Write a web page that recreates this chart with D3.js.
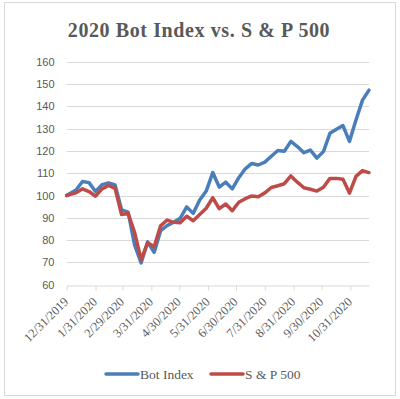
<!DOCTYPE html>
<html>
<head>
<meta charset="utf-8">
<script src="https://cdn.jsdelivr.net/npm/d3@7"></script>
<style>
  html, body { margin: 0; padding: 0; background: #fff; }
  svg { display: block; }
</style>
</head>
<body>
<script>
// weekly closes, both rebased to 100 on 12/31/2019
const dates = [
  "2019-12-31", "2020-01-03", "2020-01-10", "2020-01-17", "2020-01-24", "2020-01-31",
  "2020-02-07", "2020-02-14", "2020-02-21", "2020-02-28", "2020-03-06", "2020-03-13",
  "2020-03-20", "2020-03-27", "2020-04-03", "2020-04-10", "2020-04-17", "2020-04-24",
  "2020-05-01", "2020-05-08", "2020-05-15", "2020-05-22", "2020-05-29", "2020-06-05",
  "2020-06-12", "2020-06-19", "2020-06-26", "2020-07-03", "2020-07-10", "2020-07-17",
  "2020-07-24", "2020-07-31", "2020-08-07", "2020-08-14", "2020-08-21", "2020-08-28",
  "2020-09-04", "2020-09-11", "2020-09-18", "2020-09-25", "2020-10-02", "2020-10-09",
  "2020-10-16", "2020-10-23", "2020-10-30", "2020-11-06", "2020-11-13", "2020-11-20"
];
const botIndex = [
  100, 100.8, 102.5, 106.3, 105.8, 101.8,
  104.9, 105.7, 104.8, 93.6, 92.6, 77.8,
  69.8, 79.2, 74.5, 84.3, 86.5, 88,
  89.8, 94.9, 92, 98, 102, 110.3,
  103.8, 106, 103, 108, 112, 114.4,
  113.7, 115, 117.6, 120.2, 119.9, 124.3,
  122, 119.2, 120.4, 116.8, 119.7, 127.9,
  129.7, 131.4, 124.3, 133.9, 142.8, 147.3
];
const sp500 = [
  100, 100.4, 101.2, 103, 101.8, 99.7,
  103, 104.5, 103.2, 91.5, 92, 83.5,
  71.3, 78.8, 77, 86.4, 89, 88,
  87.8, 90.7, 88.7, 91.5, 94.3, 99,
  94.1, 96.2, 93.2, 97, 98.6, 99.8,
  99.5, 101.2, 103.6, 104.4, 105.3, 108.8,
  106, 103.5, 102.8, 102, 103.7, 107.7,
  107.7, 107.3, 101.1, 108.6, 111.2, 110.3
];
const yTicks = [60, 70, 80, 90, 100, 110, 120, 130, 140, 150, 160];
const xTickLabels = [
  "12/31/2019", "1/31/2020", "2/29/2020", "3/31/2020", "4/30/2020", "5/31/2020",
  "6/30/2020", "7/31/2020", "8/31/2020", "9/30/2020", "10/31/2020"
];
const seriesNames = ["Bot Index", "S & P 500"];
const seriesColors = ["#4a7ebb", "#be4b48"];

(function(){
  const width = 400, height = 399;
  const parseIso = d3.utcParse("%Y-%m-%d");
  const parseUs = d3.utcParse("%m/%d/%Y");

  const rows = dates.map((d, i) => ({ date: parseIso(d), bot: botIndex[i], sp: sp500[i] }));

  const svg = d3.select("body").append("svg")
    .attr("width", width)
    .attr("height", height);

  // chart border
  svg.append("rect")
    .attr("x", 4.5).attr("y", 2.5)
    .attr("width", 391).attr("height", 393)
    .attr("fill", "none")
    .attr("stroke", "#d9d9d9");

  svg.append("text")
    .attr("x", 199).attr("y", 37)
    .attr("text-anchor", "middle")
    .attr("font-family", "'Liberation Serif', serif")
    .attr("font-weight", "bold")
    .attr("font-size", 20)
    .attr("letter-spacing", 0.6)
    .attr("fill", "#595959")
    .text("2020 Bot Index vs. S & P 500");

  const xScale = d3.scaleUtc()
    .domain(d3.extent(rows, d => d.date))
    .range([66.7, 369]);
  const yScale = d3.scaleLinear()
    .domain([60, 160])
    .range([284.7, 61.8]);

  // gridlines
  svg.append("g")
    .selectAll("line")
    .data(yTicks.filter(v => v > 60))
    .join("line")
    .attr("x1", xScale.range()[0]).attr("x2", xScale.range()[1])
    .attr("y1", d => Math.round(yScale(d)) + 0.5)
    .attr("y2", d => Math.round(yScale(d)) + 0.5)
    .attr("stroke", "#d9d9d9");

  // y axis labels (no line)
  const yAxis = d3.axisLeft(yScale).tickValues(yTicks).tickSize(0).tickPadding(0);
  const gY = svg.append("g")
    .attr("transform", "translate(54.5,0)")
    .call(yAxis);
  gY.select(".domain").remove();
  gY.selectAll("text")
    .attr("font-family", "'Liberation Sans', sans-serif")
    .attr("font-size", 11)
    .attr("fill", "#595959");

  // x axis
  const xTickDates = xTickLabels.map(s => parseUs(s));
  const xAxis = d3.axisBottom(xScale)
    .tickValues(xTickDates)
    .tickSizeInner(5)
    .tickSizeOuter(0)
    .tickFormat((d, i) => xTickLabels[i]);
  const gX = svg.append("g")
    .attr("transform", "translate(0," + (Math.round(yScale(60)) + 0.5) + ")")
    .call(xAxis);
  gX.selectAll("path, line").attr("stroke", "#d9d9d9");
  gX.selectAll("text")
    .attr("font-family", "'Liberation Serif', serif")
    .attr("font-size", 12.5)
    .attr("fill", "#595959")
    .attr("text-anchor", "end")
    .attr("dy", null)
    .attr("y", null)
    .attr("transform", "translate(2,17) rotate(-45)");

  // series lines
  const keys = ["bot", "sp"];
  const line = key => d3.line()
    .x(d => xScale(d.date))
    .y(d => yScale(d[key]));

  svg.append("g")
    .selectAll("path")
    .data(keys)
    .join("path")
    .attr("d", k => line(k)(rows))
    .attr("fill", "none")
    .attr("stroke", (k, i) => seriesColors[i])
    .attr("stroke-width", 3.5)
    .attr("stroke-linejoin", "round")
    .attr("stroke-linecap", "round");

  // legend
  const legendX = [106, 211];
  const legend = svg.append("g")
    .selectAll("g")
    .data(seriesNames)
    .join("g")
    .attr("transform", (d, i) => "translate(" + legendX[i] + ",374)");
  legend.append("line")
    .attr("x1", 0).attr("x2", 32)
    .attr("stroke", (d, i) => seriesColors[i])
    .attr("stroke-width", 3.5)
    .attr("stroke-linecap", "round");
  legend.append("text")
    .attr("x", 34).attr("y", 4.5)
    .attr("font-family", "'Liberation Serif', serif")
    .attr("font-size", 13.5)
    .attr("fill", "#595959")
    .text(d => d);
})();
</script>
</body>
</html>
